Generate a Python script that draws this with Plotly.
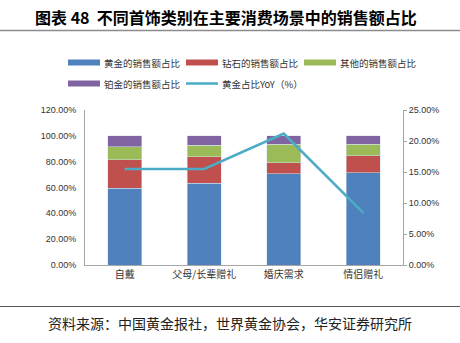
import plotly.graph_objects as go

categories = ["自戴", "父母/长辈赠礼", "婚庆需求", "情侣赠礼"]
gold_share = [59.5, 63.3, 70.5, 71.3]
diamond_share = [22.0, 20.5, 8.7, 13.1]
other_share = [10.0, 9.0, 14.1, 9.2]
platinum_share = [8.5, 7.2, 6.7, 6.4]
gold_yoy = [15.5, 15.5, 21.2, 8.4]

series_names = ["黄金的销售额占比", "钻石的销售额占比", "其他的销售额占比", "铂金的销售额占比", "黄金占比YoY（%）"]
colors = ["#4F81BD", "#C0504D", "#9BBB59", "#8064A2", "#4BACC6"]
left_ticks = [0, 20, 40, 60, 80, 100, 120]
right_ticks = [0, 5, 10, 15, 20, 25]

W, H = 460, 343
L, R, T, B = 85, 57, 110, 78
pw, ph = W - L - R, H - T - B

def px(x):
    return (x - L) / pw

def py(y):
    return (H - B - y) / ph

CJK = "Noto Sans CJK SC"
fig = go.Figure()
for name, vals, c in zip(series_names[:4], [gold_share, diamond_share, other_share, platinum_share], colors[:4]):
    fig.add_trace(go.Bar(x=categories, y=vals, name=name, marker=dict(color=c, line=dict(width=0.5, color="#D8E2F0")),
                         showlegend=False))
fig.add_trace(go.Scatter(x=categories, y=gold_yoy, name=series_names[4], mode="lines",
                         line=dict(color=colors[4], width=2.5), yaxis="y2", showlegend=False))

fig.update_layout(
    width=W, height=H, margin=dict(l=L, r=R, t=T, b=B),
    paper_bgcolor="white", plot_bgcolor="white",
    barmode="stack", bargap=0.57,
    xaxis=dict(showline=True, linecolor="#A6A6A6", linewidth=1, ticks="", showgrid=False,
               tickfont=dict(family=CJK, size=10, color="#333333")),
    yaxis=dict(range=[0, 120], tickvals=left_ticks, ticktext=[f"{v:.2f}%" for v in left_ticks],
               showline=True, linecolor="#A6A6A6", linewidth=1, showgrid=False, ticks="",
               ticklabelstandoff=6,
               tickfont=dict(family="Liberation Sans", size=9, color="#333333")),
    yaxis2=dict(range=[0, 25], tickvals=right_ticks, ticktext=[f"{v:.2f}%" for v in right_ticks],
                overlaying="y", side="right", showline=True, linecolor="#A6A6A6", linewidth=1,
                showgrid=False, ticks="outside", ticklen=3, tickcolor="#A6A6A6",
                tickfont=dict(family="Liberation Sans", size=9, color="#333333")),
    showlegend=False,
)

shapes = []
annotations = []
# title and rules
annotations.append(dict(text="<b>图表 48  不同首饰类别在主要消费场景中的销售额占比</b>", x=px(33), y=py(17),
                        xref="paper", yref="paper", xanchor="left", yanchor="middle", showarrow=False,
                        font=dict(family=CJK, size=16, color="black")))
shapes.append(dict(type="line", xref="paper", yref="paper", x0=px(0), x1=px(460), y0=py(30.5), y1=py(30.5),
                   line=dict(color="#8C8C8C", width=1.5)))
shapes.append(dict(type="line", xref="paper", yref="paper", x0=px(0), x1=px(460), y0=py(306.5), y1=py(306.5),
                   line=dict(color="#555555", width=1.2)))
annotations.append(dict(text="资料来源：中国黄金报社，世界黄金协会，华安证券研究所", x=px(230), y=py(323),
                        xref="paper", yref="paper", xanchor="center", yanchor="middle", showarrow=False,
                        font=dict(family=CJK, size=14, color="#222222")))

# legend
legend_pos = [(68, 62.5), (186, 62.5), (304, 62.5), (68, 83.5), (186, 83.5)]
for i, (name, (lx, ly)) in enumerate(zip(series_names, legend_pos)):
    if i < 4:
        shapes.append(dict(type="rect", xref="paper", yref="paper", x0=px(lx), x1=px(lx + 32),
                           y0=py(ly - 3), y1=py(ly + 3), fillcolor=colors[i], line=dict(width=0)))
    else:
        shapes.append(dict(type="line", xref="paper", yref="paper", x0=px(lx), x1=px(lx + 32),
                           y0=py(ly), y1=py(ly), line=dict(color=colors[i], width=2.5)))
    annotations.append(dict(text=name, x=px(lx + 34), y=py(ly), xref="paper", yref="paper",
                            xanchor="left", yanchor="middle", showarrow=False,
                            font=dict(family=CJK, size=9.5, color="#333333")))

fig.update_layout(shapes=shapes, annotations=annotations)
fig.write_html("out.html")
